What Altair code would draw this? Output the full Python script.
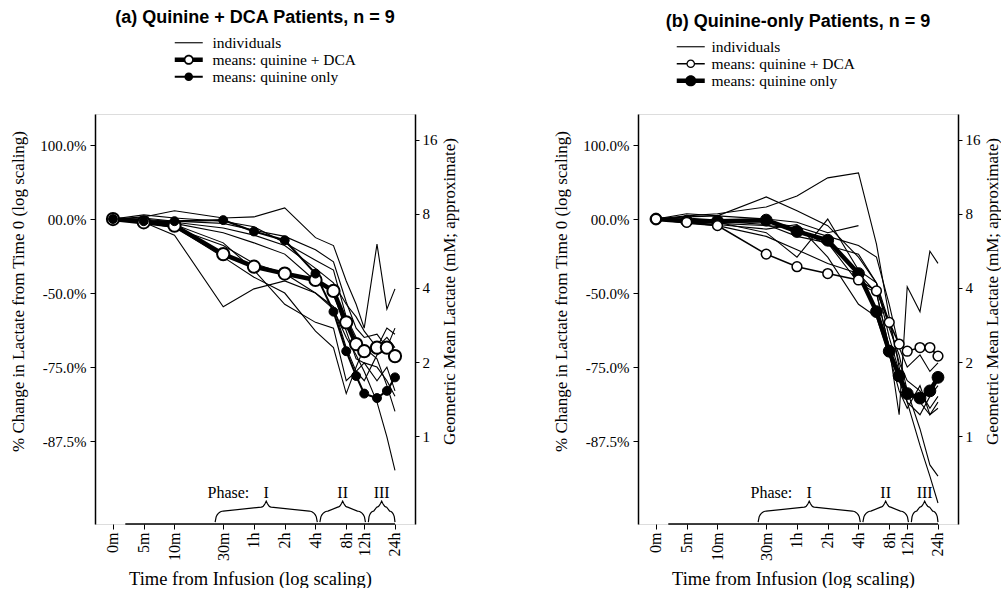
import math
import altair as alt
import pandas as pd

# ---------------- data ----------------
# sampling times (minutes after start of infusion)
SAMPLE_TIMES = [0, 5, 10, 30, 60, 120, 240, 360, 480, 600, 720, 960, 1200, 1440]
ZERO_POS = 2.5  # position of time 0 ("0m") on the log time axis

X_TICKS = [2.5, 5, 10, 30, 60, 120, 240, 480, 720, 1440]
X_TICK_LABELS = ["0m", "5m", "10m", "30m", "1h", "2h", "4h", "8h", "12h", "24h"]
X_DOMAIN = [1.667, 2261]
AXIS_LINE_FROM = 3.3

# lactate relative to time 0 (ratio, log scale)
Y_TICKS = [2, 1, 0.5, 0.25, 0.125]
Y_TICK_LABELS = ["100.0%", "00.0%", "-50.0%", "-75.0%", "-87.5%"]
Y_DOMAIN = [0.0575, 2.674]
LACTATE_AT_BASELINE = 7.63  # mM, geometric mean at ratio 1
LAC_TICKS = [16, 8, 4, 2, 1]

MEAN_DCA = [1.00, 0.97, 0.94, 0.72, 0.64, 0.60, 0.565, 0.51, 0.38, 0.31, 0.29, 0.30, 0.30, 0.277]
MEAN_QUININE = [1.00, 0.98, 0.98, 0.99, 0.89, 0.82, 0.60, 0.42, 0.29, 0.23, 0.195, 0.187, 0.20, 0.227]

DCA_PATIENTS = {
    "a1": [1.0, 1.02, 1.08, 1.01, 1.02, 1.11, 0.84, 0.78, 0.56, 0.45, 0.36, 0.79, 0.43, 0.52],
    "a2": [1.0, 1.04, 1.01, 0.98, 0.93, 0.80, 0.68, 0.62, 0.40, 0.33, 0.30, 0.30, 0.36, 0.34],
    "a3": [1.0, 0.97, 0.86, 0.44, 0.52, 0.56, 0.50, 0.44, 0.30, 0.24, 0.22, 0.28, 0.30, 0.29],
    "a4": [1.0, 0.99, 0.95, 0.80, 0.62, 0.45, 0.38, 0.36, 0.22, 0.24, 0.26, 0.22, 0.25, 0.20],
    "a5": [1.0, 0.98, 0.93, 0.70, 0.58, 0.50, 0.35, 0.30, 0.195, 0.25, 0.30, 0.27, 0.21, 0.165],
    "a6": [1.0, 0.97, 0.92, 0.78, 0.66, 0.60, 0.50, 0.43, 0.33, 0.28, 0.24, 0.18, 0.13, 0.095],
    "a7": [1.0, 1.01, 0.98, 0.96, 0.90, 0.85, 0.75, 0.67, 0.46, 0.36, 0.33, 0.34, 0.30, 0.36],
    "a8": [1.0, 0.99, 0.96, 0.88, 0.80, 0.72, 0.56, 0.50, 0.35, 0.27, 0.26, 0.25, 0.22, 0.19],
    "a9": [1.0, 1.00, 0.97, 0.92, 0.86, 0.78, 0.63, 0.55, 0.45, 0.40, 0.35, 0.30, 0.33, 0.30],
}
QUININE_PATIENTS = {
    "b1": [1.0, 1.03, 1.05, 1.12, 1.24, 1.47, 1.54, 0.79, 0.40, 0.25, 0.18, 0.12, 0.09, 0.07],
    "b2": [1.0, 1.05, 1.03, 1.23, 1.08, 0.94, 0.70, 0.55, 0.33, 0.24, 0.20, 0.18, 0.16, 0.17],
    "b3": [1.0, 1.02, 1.03, 1.00, 0.97, 0.88, 0.94, None, None, None, None, None, None, None],
    "b4": [1.0, 0.96, 0.94, 0.85, 0.75, 0.66, 0.60, 0.50, 0.30, 0.16, 0.53, 0.42, 0.74, 0.66],
    "b5": [1.0, 0.98, 0.97, 0.88, 0.70, 1.00, 0.62, 0.55, 0.38, 0.26, 0.22, 0.20, 0.17, 0.19],
    "b6": [1.0, 0.99, 0.96, 0.94, 0.92, 0.78, 0.72, 0.55, 0.36, 0.28, 0.20, 0.14, 0.10, 0.09],
    "b7": [1.0, 1.00, 0.98, 0.95, 0.85, 0.80, 0.55, 0.50, 0.30, 0.22, 0.18, 0.16, 0.19, 0.21],
    "b8": [1.0, 0.97, 0.95, 0.91, 0.95, 0.70, 0.45, 0.40, 0.28, 0.20, 0.17, 0.21, 0.16, 0.18],
    "b9": [1.0, 1.01, 0.99, 0.97, 0.93, 0.85, 0.78, 0.70, 0.45, 0.30, 0.25, 0.28, 0.24, 0.26],
}

PHASES = ["I", "II", "III"]
PHASE_START = [25, 265, 790]
PHASE_END = [250, 740, 1440]
PHASE_WORD = "Phase:"
PHASE_WORD_AT = 54
PHASE_TEXT_RATIO = 0.077
BRACE_BASE_RATIO = 0.0585

SERIES = ["individuals", "means: quinine + DCA", "means: quinine only"]

# ---------------- layout ----------------
W, H = 320, 410
PPX = W / math.log2(X_DOMAIN[1] / X_DOMAIN[0])
PPY = H / math.log2(Y_DOMAIN[1] / Y_DOMAIN[0])
SERIF = "Liberation Serif"
SANS = "Liberation Sans"


def tpos(t):
    return ZERO_POS if t == 0 else t


def lookup_expr(values, labels):
    vals = ",".join(f"{v:g}" for v in values)
    labs = ",".join(f"'{l}'" for l in labels)
    return f"[{labs}][indexof([{vals}], datum.value)]"


def patients_df(patients):
    rows = []
    for pid, vals in patients.items():
        for t, v in zip(SAMPLE_TIMES, vals):
            if v is not None:
                rows.append({"patient": pid, "tpos": tpos(t), "ratio": v})
    return pd.DataFrame(rows)


def mean_df(vals):
    return pd.DataFrame({"tpos": [tpos(t) for t in SAMPLE_TIMES], "ratio": vals})


def brace_df():
    rows = []
    h1, h2, h3, cusp = 11.0, 15.0, 21.0, 5.0
    for name, s, e in zip(PHASES, PHASE_START, PHASE_END):
        l0, l1 = math.log2(s), math.log2(e)
        half_px = (l1 - l0) / 2 * PPX
        r = min(8.0, half_px * 0.4)
        ds = [r * k / 8 for k in range(9)]
        ds += [half_px - cusp]
        ds += [half_px - cusp + cusp * k / 5 for k in range(1, 6)]

        def h_at(d):
            if d <= r:
                return h1 * math.sqrt(max(0.0, 1 - (1 - d / r) ** 2))
            if d <= half_px - cusp:
                return h1 + (h2 - h1) * (d - r) / max(1e-6, half_px - cusp - r)
            return h2 + (h3 - h2) * ((d - (half_px - cusp)) / cusp) ** 2

        pts = [(l0 + d / PPX, h_at(d)) for d in ds]
        pts += [(l1 - d / PPX, h_at(d)) for d in reversed(ds[:-1])]
        for i, (lx, h) in enumerate(pts):
            rows.append({"phase": name, "order": i, "tpos": 2 ** lx,
                         "ratio": BRACE_BASE_RATIO * 2 ** (h / PPY)})
    return pd.DataFrame(rows)


def bar(h, gap):
    if gap is None:
        return f"M-2,{-h}H2V{h}H-2Z"
    return f"M-2,{-h}H{-gap}V{h}H-2Z M{gap},{-h}H2V{h}H{gap}Z"


def ring(ro, ri):
    return (f"M{ro},0A{ro},{ro} 0 1,1 {-ro},0A{ro},{ro} 0 1,1 {ro},0Z "
            f"M{ri},0A{ri},{ri} 0 1,0 {-ri},0A{ri},{ri} 0 1,0 {ri},0Z")


def disc(r):
    return f"M{r},0A{r},{r} 0 1,1 {-r},0A{r},{r} 0 1,1 {r},0Z"


x_enc = alt.X(
    "tpos:Q",
    scale=alt.Scale(type="log", domain=X_DOMAIN, nice=False),
    axis=alt.Axis(
        values=X_TICKS, labelExpr=lookup_expr(X_TICKS, X_TICK_LABELS),
        labelAngle=270, labelFont=SERIF, labelFontSize=16, labelColor="black",
        labelPadding=3, labelFlush=False, labelOverlap=False,
        domain=False, ticks=True, tickColor="black", tickSize=5, grid=False,
        title="Time from Infusion (log scaling)", titleFont=SERIF,
        titleFontSize=18.5, titleFontWeight="normal", titleColor="black",
        titleY=54, titleX=155, titleBaseline="middle",
    ),
)
y_enc = alt.Y(
    "ratio:Q",
    scale=alt.Scale(type="log", domain=Y_DOMAIN, nice=False),
    axis=alt.Axis(
        values=Y_TICKS, labelExpr=lookup_expr(Y_TICKS, Y_TICK_LABELS),
        labelFont=SERIF, labelFontSize=15, labelColor="black", labelPadding=4,
        domainColor="black", domainWidth=1.5, tickColor="black", tickSize=5,
        grid=False,
        title="% Change in Lactate from Time 0 (log scaling)", titleFont=SERIF,
        titleFontSize=17, titleFontWeight="normal", titleColor="black",
        titleAngle=270, titleAlign="center", titleBaseline="middle",
        titleX=-77, titleY=177,
    ),
)
lac_enc = alt.Y(
    "lac:Q",
    scale=alt.Scale(type="log", nice=False,
                    domain=[Y_DOMAIN[0] * LACTATE_AT_BASELINE, Y_DOMAIN[1] * LACTATE_AT_BASELINE]),
    axis=alt.Axis(
        orient="right", values=LAC_TICKS, labelFont=SERIF, labelFontSize=15,
        labelColor="black", labelPadding=3, domainColor="black", domainWidth=1.5,
        tickColor="black", tickSize=4, grid=False,
        title="Geometric Mean Lactate (mM; approximate)", titleFont=SERIF,
        titleFontSize=17, titleFontWeight="normal", titleColor="black",
        titleAngle=270, titleAlign="center", titleBaseline="middle",
        titleX=34, titleY=177,
    ),
)


def make_panel(title, patients, thick, legend_x, legend_y, label_offset):
    axis_line = alt.Chart(pd.DataFrame({
        "tpos": [AXIS_LINE_FROM], "tpos2": [X_TICKS[-1]], "ratio": [Y_DOMAIN[0]]
    })).mark_rule(color="black", strokeWidth=1.5).encode(
        x=x_enc, x2=alt.X2("tpos2"), y=y_enc)

    indiv = alt.Chart(patients_df(patients)).mark_line(
        color="black", strokeWidth=1.1).encode(x=x_enc, y=y_enc, detail="patient:N")

    braces = alt.Chart(brace_df()).mark_line(color="black", strokeWidth=1.2).encode(
        x=x_enc, y=y_enc, detail="phase:N", order="order:Q")

    phase_df = pd.DataFrame({
        "label": PHASES,
        "tpos": [math.sqrt(s * e) for s, e in zip(PHASE_START, PHASE_END)],
        "ratio": [PHASE_TEXT_RATIO] * len(PHASES),
    })
    phase_text = alt.Chart(phase_df).mark_text(
        font=SERIF, fontSize=16, color="black", baseline="middle", align="center"
    ).encode(x=x_enc, y=y_enc, text="label:N")
    phase_word = alt.Chart(pd.DataFrame({
        "label": [PHASE_WORD], "tpos": [PHASE_WORD_AT], "ratio": [PHASE_TEXT_RATIO]
    })).mark_text(font=SERIF, fontSize=16, color="black", baseline="middle",
                  align="right").encode(x=x_enc, y=y_enc, text="label:N")

    dca = mean_df(MEAN_DCA)
    qui = mean_df(MEAN_QUININE)
    if thick == "dca":
        dca_lw, qui_lw = 4.5, 2.0
        dca_sz, dca_sw, qui_sz = 150, 2.0, 80
        paths = [bar(0.08, None), bar(0.32, 0.6) + " " + ring(0.72, 0.48),
                 bar(0.15, 0.5) + " " + disc(0.62)]
    else:
        dca_lw, qui_lw = 1.6, 4.5
        dca_sz, dca_sw, qui_sz = 95, 1.5, 140
        paths = [bar(0.08, None), bar(0.12, 0.5) + " " + ring(0.62, 0.44),
                 bar(0.32, 0.6) + " " + disc(0.8)]

    dca_line = alt.Chart(dca).mark_line(color="black", strokeWidth=dca_lw).encode(x=x_enc, y=y_enc)
    qui_line = alt.Chart(qui).mark_line(color="black", strokeWidth=qui_lw).encode(x=x_enc, y=y_enc)
    dca_pts = alt.Chart(dca).mark_point(
        shape="circle", filled=True, fill="white", stroke="black",
        strokeWidth=dca_sw, size=dca_sz, opacity=1).encode(x=x_enc, y=y_enc)
    qui_pts = alt.Chart(qui).mark_point(
        shape="circle", filled=True, fill="black", stroke="black",
        strokeWidth=1, size=qui_sz, opacity=1).encode(x=x_enc, y=y_enc)

    legend = alt.Chart(pd.DataFrame({"series": SERIES})).transform_filter(
        "false").mark_point(filled=True, color="black", opacity=1, size=196,
                            strokeWidth=0).encode(
        shape=alt.Shape(
            "series:N", scale=alt.Scale(domain=SERIES, range=paths),
            legend=alt.Legend(
                title=None, orient="none", legendX=legend_x, legendY=legend_y,
                symbolSize=196, symbolFillColor="black", symbolStrokeWidth=0,
                symbolOpacity=1, labelFont=SERIF, labelFontSize=15.5,
                labelColor="black", labelOffset=label_offset, rowPadding=0,
                padding=0,
            ),
        )
    )

    if thick == "dca":
        order = [axis_line, indiv, braces, phase_text, phase_word,
                 dca_line, qui_line, dca_pts, qui_pts, legend]
    else:
        order = [axis_line, indiv, braces, phase_text, phase_word,
                 qui_line, dca_line, qui_pts, dca_pts, legend]
    inner = alt.layer(*order)

    right_axis = alt.Chart(pd.DataFrame({"lac": LAC_TICKS})).mark_point(
        opacity=0).encode(y=lac_enc)

    return alt.layer(inner, right_axis).resolve_scale(y="independent").properties(
        width=W, height=H,
        title=alt.TitleParams(title, font=SANS, fontSize=18, fontWeight="bold",
                              anchor="middle", frame="group", offset=8,
                              color="black"),
    )


panel_a = make_panel("(a) Quinine + DCA Patients, n = 9", DCA_PATIENTS, "dca", 86, -79, 16)
panel_b = make_panel("(b) Quinine-only Patients, n = 9", QUININE_PATIENTS, "quinine", 45, -75, 13)

chart = alt.hconcat(panel_a, panel_b, spacing=93).resolve_scale(
    shape="independent").resolve_legend(shape="independent").properties(
    padding={"left": 8, "top": 8, "right": 0, "bottom": 0}
).configure_view(stroke=None).configure(font=SERIF)

chart.save("out.html", embed_options={"renderer": "svg", "actions": False})
